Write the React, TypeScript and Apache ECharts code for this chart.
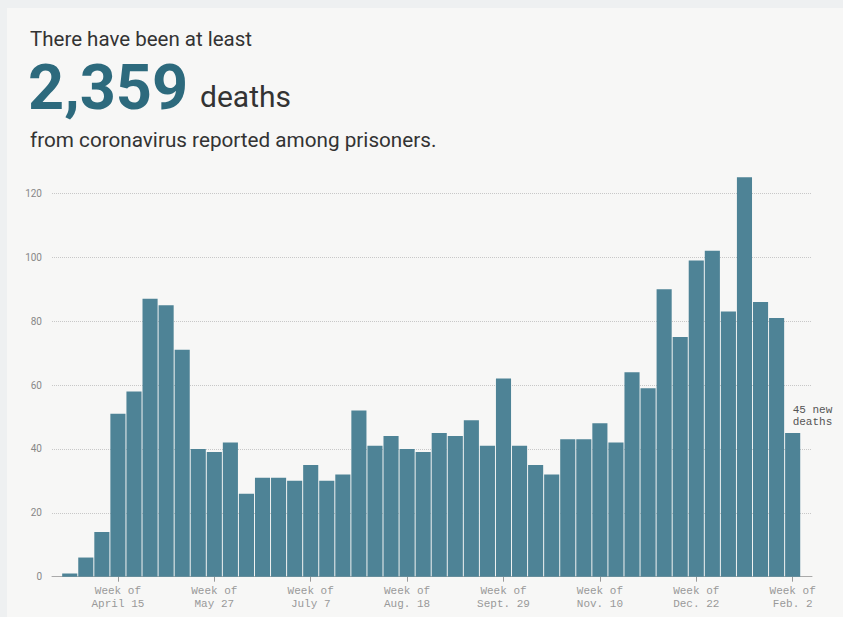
import React, { useEffect, useRef } from "react";
import * as echarts from "echarts";

const weeks: string[] = [
  "Mar. 25", "Apr. 1", "Apr. 8", "April 15", "Apr. 22", "Apr. 29", "May 6", "May 13", "May 20", "May 27",
  "June 3", "June 10", "June 17", "June 24", "June 30", "July 7", "July 14", "July 21", "July 28", "Aug. 4",
  "Aug. 11", "Aug. 18", "Aug. 25", "Sept. 1", "Sept. 8", "Sept. 15", "Sept. 22", "Sept. 29", "Oct. 6", "Oct. 13",
  "Oct. 20", "Oct. 27", "Nov. 3", "Nov. 10", "Nov. 17", "Nov. 24", "Dec. 1", "Dec. 8", "Dec. 15", "Dec. 22",
  "Dec. 29", "Jan. 5", "Jan. 12", "Jan. 19", "Jan. 26", "Feb. 2",
];

const deaths: number[] = [
  1, 6, 14, 51, 58, 87, 85, 71, 40, 39,
  42, 26, 31, 31, 30, 35, 30, 32, 52, 41,
  44, 40, 39, 45, 44, 49, 41, 62, 41, 35,
  32, 43, 43, 48, 42, 64, 59, 90, 75, 99,
  102, 83, 125, 86, 81, 45,
];

const labeledWeeks: string[] = [
  "April 15", "May 27", "July 7", "Aug. 18", "Sept. 29", "Nov. 10", "Dec. 22", "Feb. 2",
];

const yTicks: number[] = [0, 20, 40, 60, 80, 100, 120];

const total = deaths.reduce((a, b) => a + b, 0);

export default function App() {
  const ref = useRef<HTMLDivElement>(null);

  useEffect(() => {
    document.body.style.margin = "0";
    document.body.style.background = "#eef0f1";
    if (!ref.current) return;
    const chart = echarts.init(ref.current, undefined, { renderer: "svg" });
    const last = deaths.length - 1;
    const barData = deaths.map((v, i) =>
      i === last
        ? {
            value: v,
            label: {
              show: true,
              position: "top",
              distance: 5,
              align: "left",
              formatter: `${v} new\ndeaths`,
              fontFamily: "Liberation Mono, DejaVu Sans Mono, monospace",
              fontSize: 11,
              lineHeight: 12,
              color: "#555",
            },
          }
        : v
    );
    const isLabeled = (_i: number, name: string) => labeledWeeks.includes(name);
    chart.setOption({
      animation: false,
      backgroundColor: "#f7f7f6",
      grid: [
        { left: 45, right: 31, top: 121.4, bottom: 40.3 },
        { left: 54.7, right: 42.3, top: 121.4, bottom: 40.3 },
      ],
      xAxis: [
        {
          type: "value",
          gridIndex: 0,
          min: 0,
          max: 1,
          axisLine: { show: true, lineStyle: { color: "#aaa", width: 1 } },
          axisTick: { show: false },
          axisLabel: { show: false },
          splitLine: { show: false },
        },
        {
          type: "category",
          gridIndex: 1,
          data: weeks,
          boundaryGap: true,
          axisLine: { show: false },
          axisTick: {
            show: true,
            alignWithLabel: true,
            interval: isLabeled,
            length: 5,
            lineStyle: { color: "#999" },
          },
          axisLabel: {
            interval: isLabeled,
            formatter: (name: string) => `Week of\n${name}`,
            fontFamily: "Liberation Mono, DejaVu Sans Mono, monospace",
            fontSize: 11,
            lineHeight: 13,
            color: "#999",
            margin: 8,
          },
        },
      ],
      yAxis: [
        {
          type: "value",
          gridIndex: 0,
          min: 0,
          max: 140,
          interval: 20,
          axisLine: { show: false },
          axisTick: { show: false },
          axisLabel: {
            showMaxLabel: false,
            formatter: (v: number) => (yTicks.includes(v) ? String(v) : ""),
            fontFamily: "Roboto, Liberation Sans, sans-serif",
            fontSize: 10,
            color: "#888",
            margin: 10,
          },
          splitLine: {
            show: true,
            showMinLine: false,
            showMaxLine: false,
            lineStyle: { type: "dotted", color: "#c8c8c8", width: 1 },
          },
        },
        {
          type: "value",
          gridIndex: 1,
          min: 0,
          max: 140,
          show: false,
        },
      ],
      series: [
        {
          type: "bar",
          xAxisIndex: 1,
          yAxisIndex: 1,
          data: barData,
          barCategoryGap: "6%",
          itemStyle: { color: "#4e8396" },
        },
      ],
      graphic: [
        {
          type: "text",
          left: 23,
          top: 20,
          style: {
            text: "There have been at least",
            fontFamily: "Roboto, sans-serif",
            fontSize: 20.5,
            fill: "#333",
          },
        },
        {
          type: "text",
          left: 21,
          top: 48,
          style: {
            text: total.toLocaleString("en-US"),
            fontFamily: "Roboto, sans-serif",
            fontWeight: "bold",
            fontSize: 63,
            fill: "#2d6a7d",
          },
        },
        {
          type: "text",
          left: 193,
          top: 73,
          style: {
            text: "deaths",
            fontFamily: "Roboto, sans-serif",
            fontSize: 30,
            fill: "#333",
          },
        },
        {
          type: "text",
          left: 23,
          top: 121,
          style: {
            text: "from coronavirus reported among prisoners.",
            fontFamily: "Roboto, sans-serif",
            fontSize: 20.7,
            fill: "#333",
          },
        },
      ],
    });
    return () => chart.dispose();
  }, []);

  return (
    <div style={{ width: 843, height: 617, overflow: "hidden", boxSizing: "border-box", paddingLeft: 7, paddingTop: 8 }}>
      <div ref={ref} style={{ width: 836, height: 609 }} />
    </div>
  );
}
